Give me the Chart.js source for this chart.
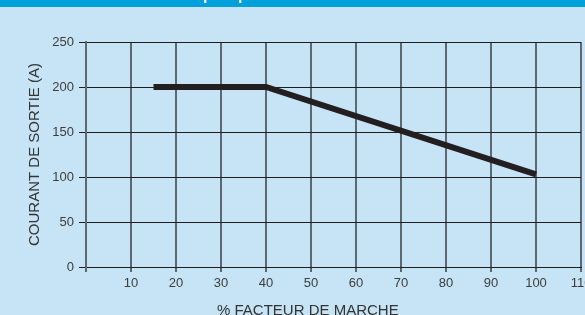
<!DOCTYPE html>
<html>
<head>
<meta charset="utf-8">
<script src="https://cdn.jsdelivr.net/npm/chart.js@4/dist/chart.umd.min.js"></script>
<style>
  html, body { margin: 0; padding: 0; background: #c6e4f5; }
  #wrap { width: 585px; height: 315px; position: relative; }
</style>
</head>
<body>
<div id="wrap"><canvas id="c" width="585" height="315"></canvas></div>
<script>
// Data
const dutyCycle = [15, 40, 100];          // % facteur de marche
const outputCurrent = [200, 200, 103];    // courant de sortie (A)
const xTicks = [0, 10, 20, 30, 40, 50, 60, 70, 80, 90, 100, 110];
const yTicks = [0, 50, 100, 150, 200, 250];
const xTitle = '% FACTEUR DE MARCHE';
const yTitle = 'COURANT DE SORTIE (A)';

const BG = '#c6e4f5';
const BAND = '#00a1da';
const FONT = '"Liberation Sans", Arial, Helvetica, sans-serif';

const decor = {
  id: 'decor',
  beforeDraw(chart) {
    const ctx = chart.ctx;
    ctx.save();
    ctx.fillStyle = BG;
    ctx.fillRect(0, 0, chart.width, chart.height);
    ctx.fillStyle = BAND;
    ctx.fillRect(0, 0, chart.width, 7);
    // partially hidden white heading text above the band
    ctx.beginPath();
    ctx.rect(0, 0, chart.width, 7);
    ctx.clip();
    ctx.fillStyle = '#ffffff';
    ctx.font = 'bold 16px ' + FONT;
    ctx.textBaseline = 'alphabetic';
    ctx.fillText('p', 203, 0);
    ctx.fillText('p', 238, 0);
    ctx.restore();
  },
  afterDraw(chart) {
    const ctx = chart.ctx;
    const area = chart.chartArea;
    ctx.save();
    ctx.fillStyle = '#333333';
    ctx.font = '15px ' + FONT;
    ctx.textAlign = 'left';
    ctx.textBaseline = 'alphabetic';
    ctx.fillText(xTitle, 217, 315);
    ctx.translate(39, (area.top + area.bottom) / 2);
    ctx.rotate(-Math.PI / 2);
    ctx.textAlign = 'center';
    ctx.fillText(yTitle, 0, 0);
    ctx.restore();
  }
};

new Chart(document.getElementById('c'), {
  type: 'line',
  data: {
    datasets: [{
      data: dutyCycle.map((x, i) => ({ x: x, y: outputCurrent[i] })),
      borderColor: '#231f20',
      borderWidth: 6,
      borderCapStyle: 'butt',
      borderJoinStyle: 'miter',
      pointRadius: 0,
      tension: 0,
      fill: false
    }]
  },
  options: {
    responsive: false,
    animation: false,
    devicePixelRatio: 1,
    layout: { padding: { top: 42, right: 4, left: 0, bottom: 0 } },
    plugins: { legend: { display: false }, tooltip: { enabled: false } },
    scales: {
      x: {
        type: 'linear',
        min: xTicks[0],
        max: xTicks[xTicks.length - 1],
        afterBuildTicks(s) { s.ticks = xTicks.map(v => ({ value: v })); },
        afterFit(s) { s.height = 48; s.paddingLeft = 0; s.paddingRight = 0; },
        ticks: {
          padding: 4,
          color: '#3d3d3d',
          font: { family: FONT, size: 13 },
          maxRotation: 0,
          autoSkip: false,
          callback: v => (v === 0 ? '' : String(v))
        },
        grid: { color: '#5d6970', lineWidth: 2, tickLength: 5, drawTicks: true },
        border: { color: '#1e1e1e', width: 1 }
      },
      y: {
        type: 'linear',
        min: yTicks[0],
        max: yTicks[yTicks.length - 1],
        afterBuildTicks(s) { s.ticks = yTicks.map(v => ({ value: v })); },
        afterFit(s) { s.width = 86; s.paddingTop = 0; s.paddingBottom = 0; },
        ticks: {
          padding: 5,
          color: '#3d3d3d',
          font: { family: FONT, size: 13 },
          autoSkip: false
        },
        grid: { color: '#1e1e1e', lineWidth: 1, tickLength: 7, drawTicks: true },
        border: { color: '#5d6970', width: 2 }
      }
    }
  },
  plugins: [decor]
});
</script>
</body>
</html>
